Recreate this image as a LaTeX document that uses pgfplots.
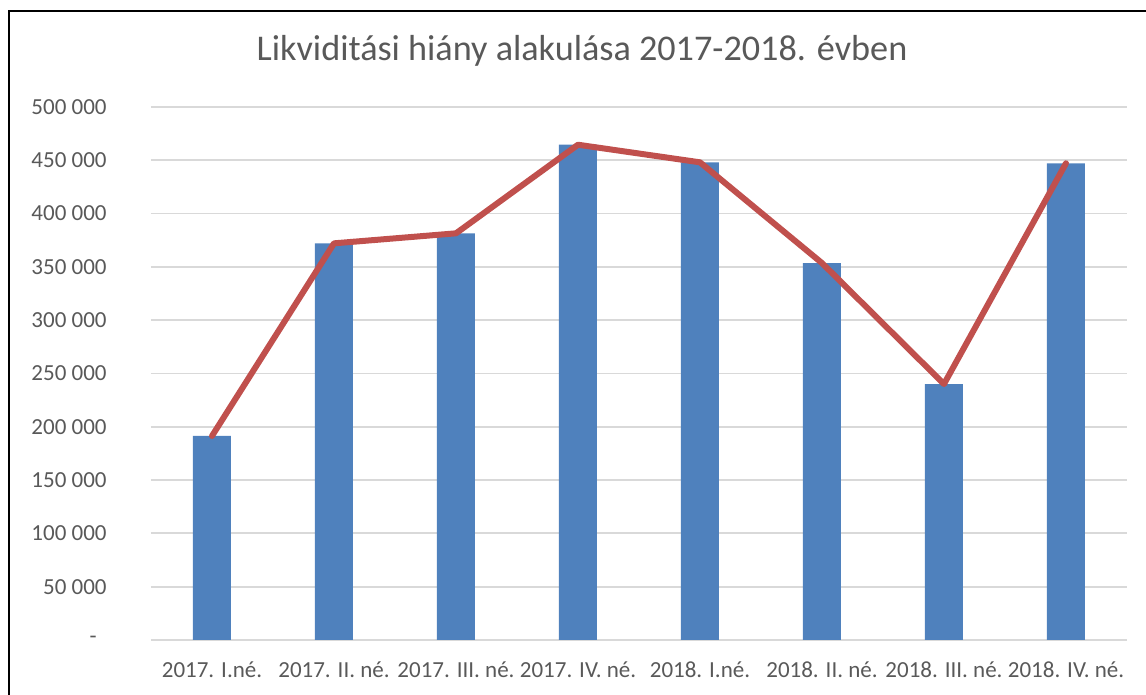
\documentclass[border=0pt]{standalone}
\usepackage{fontspec}
\setmainfont{Carlito}
\usepackage{pgfplots}
\pgfplotsset{compat=1.18}

\definecolor{barblue}{HTML}{4F81BD}
\definecolor{linered}{HTML}{C0504D}
\definecolor{txtgray}{HTML}{595959}
\definecolor{gridgray}{HTML}{D9D9D9}

\begin{document}
\begin{tikzpicture}
% page = 1146 x 695 px, 1 px = 0.5pt
\useasboundingbox (0,0) rectangle (573pt,347.5pt);
\draw[black, line width=1pt] (4.5pt,0) -- (4.5pt,342pt) -- (573pt,342pt);

\node[anchor=base, text=txtgray, font=\fontsize{18.1}{21}\selectfont]
  at (291pt,317pt) {Likviditási hiány alakulása 2017-2018. évben};

\begin{axis}[
    at={(75.5pt,27.5pt)},
    anchor=south west,
    scale only axis,
    width=488pt,
    height=266.5pt,
    xmin=-0.5, xmax=7.5,
    ymin=0, ymax=500000,
    clip=false,
    axis line style={draw=none},
    major tick length=0pt,
    xtick={0,...,7},
    xticklabels={2017. I.né., 2017. II. né., 2017. III. né., 2017. IV. né.,
                 2018. I.né., 2018. II. né., 2018. III. né., 2018. IV. né.},
    ytick={0,50000,...,500000},
    yticklabels={-\hspace*{5pt}, 50 000, 100 000, 150 000, 200 000, 250 000,
                 300 000, 350 000, 400 000, 450 000, 500 000},
    scaled y ticks=false,
    ymajorgrids,
    major grid style={draw=gridgray, line width=0.9pt},
    ticklabel style={text=txtgray, font=\fontsize{11.5}{14}\selectfont},
    xticklabel style={anchor=base, inner sep=0pt, yshift=-19pt},
    yticklabel style={anchor=east, inner sep=0pt, xshift=-22pt},
]

% Likviditási hiány (oszlop)
\addplot[ybar, bar width=19pt, fill=barblue, draw=none] coordinates {
    (0,191400)
    (1,372100)
    (2,381500)
    (3,464600)
    (4,448100)
    (5,353600)
    (6,240100)
    (7,447200)
};

% ugyanaz vonallal
\addplot[linered, line width=3pt, line join=round, line cap=round, mark=none] coordinates {
    (0,191400)
    (1,372100)
    (2,381500)
    (3,464600)
    (4,448100)
    (5,353600)
    (6,240100)
    (7,447200)
};

\end{axis}
\end{tikzpicture}
\end{document}
